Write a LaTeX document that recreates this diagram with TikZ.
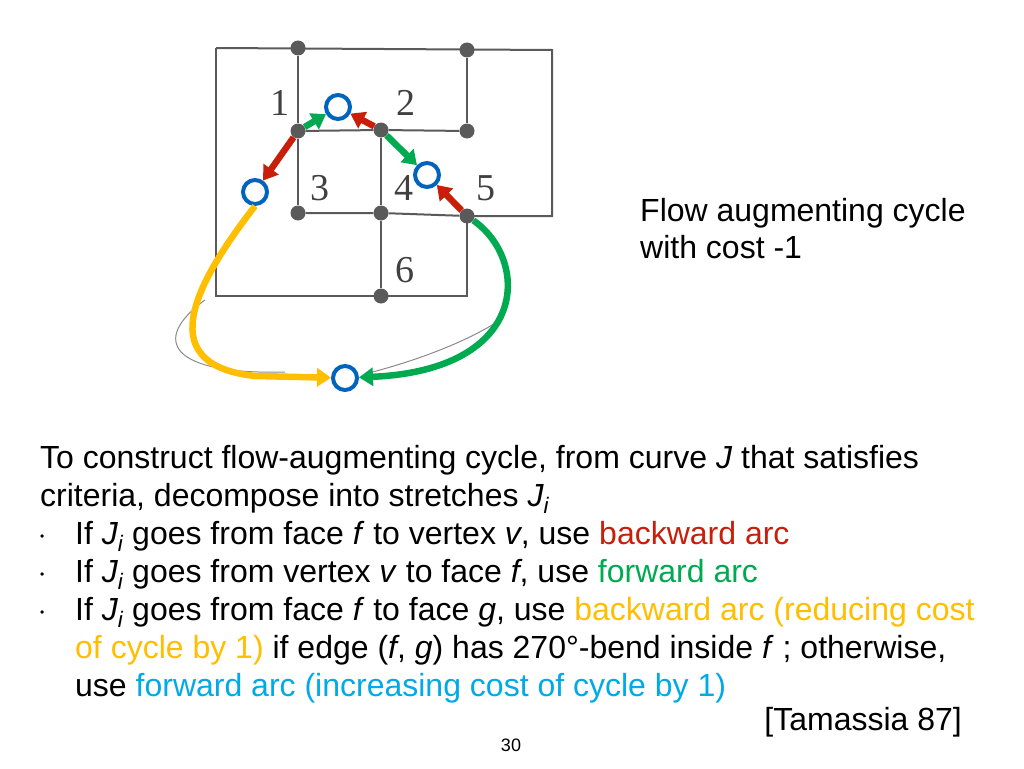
\documentclass[tikz,border=0pt]{standalone}
\usepackage{fontspec}
\setmainfont{Liberation Sans}
\newfontfamily\labfont{Liberation Serif}
\usetikzlibrary{arrows.meta}
\definecolor{cred}{RGB}{200,30,10}
\definecolor{cgreen}{RGB}{0,170,80}
\definecolor{cyel}{RGB}{255,190,0}
\definecolor{cblue}{RGB}{0,100,190}
\definecolor{cltblue}{RGB}{0,170,230}
\definecolor{cgray}{RGB}{90,90,90}
\begin{document}
\begin{tikzpicture}[x=1pt,y=-1pt,
  vert/.style={circle,fill=cgray,inner sep=0pt,minimum size=15pt},
  fnode/.style={circle,draw=cblue,line width=4pt,fill=white,inner sep=0pt,minimum size=24pt},
  edge/.style={draw=cgray,line width=2pt},
  arr/.style={line width=6.5pt,-{Triangle[length=14pt,width=18pt]}},
  flab/.style={font=\fontsize{38}{38}\selectfont\labfont,text=black!75},
  txt/.style={anchor=base west,inner sep=0pt,font=\fontsize{32}{38}\selectfont}]
\useasboundingbox (0,0) rectangle (1024,768);
% frame lines
\draw[edge] (216,48) -- (552,50) -- (552,216) -- (467,216);
\draw[edge] (216,48) -- (216,296) -- (467,296) -- (467,216);
% vertices
\node[vert] (A) at (298,48) {};
\node[vert] (B) at (467,50) {};
\node[vert] (C) at (298,131) {};
\node[vert] (D) at (381,130) {};
\node[vert] (E) at (467,131) {};
\node[vert] (F) at (298,213) {};
\node[vert] (G) at (381,213) {};
\node[vert] (H) at (467,216) {};
\node[vert] (I) at (381,296) {};
\draw[edge] (A)--(C)--(F); \draw[edge] (B)--(E);
\draw[edge] (C)--(D)--(E); \draw[edge] (D)--(G)--(I);
\draw[edge] (F)--(G)--(H);
\node[flab] (l1) at (280,103) {1};
\node[flab] (l2) at (406,103) {2};
\node[flab] (l3) at (320,188) {3};
\node[flab] (l4) at (404,188) {4};
\node[flab] (l5) at (486,188) {5};
\node[flab] (l6) at (405,270) {6};
% scan artifacts
\draw[cgray!70,line width=1pt] (205,300) .. controls (150,340) and (170,375) .. (285,372);
\draw[cgray!70,line width=1pt] (500,320) .. controls (470,340) and (420,360) .. (365,374);
% face nodes
\node[fnode] (O1) at (338,107) {};
\node[fnode] (O2) at (427,175) {};
\node[fnode] (O3) at (255,192) {};
\node[fnode] (O4) at (345,378) {};
\draw[arr,cgreen] (C) -- (O1);
\draw[arr,cred] (D) -- (O1);
\draw[arr,cgreen] (D) -- (O2);
\draw[arr,cred] (H) -- (O2);
\draw[arr,cred] (C) -- (O3);
\draw[arr,cyel] (O3.south) .. controls (190,290) and (155,365) .. (255,376) -- (O4);
\draw[arr,cgreen] (H) .. controls (530,260) and (530,370) .. (O4);
% right text
\node[txt] (t0) at (640,221) {Flow augmenting cycle};
\node[txt] (t00) at (640,258) {with cost -1};
% main text
\node[txt] (t1) at (40,468) {To construct flow-augmenting cycle, from curve \textit{J} that satisfies};
\node[txt] (t2) at (40,506) {criteria, decompose into stretches \textit{J\textsubscript{i}}};
\node[txt] (b1) at (40,544) {\fontsize{12}{12}\selectfont\raisebox{4pt}{•}};
\node[txt] (t3) at (75,544) {If \textit{J\textsubscript{i}} goes from face \textit{f} to vertex \textit{v}, use \textcolor{cred}{backward arc}};
\node[txt] (b2) at (40,582) {\fontsize{12}{12}\selectfont\raisebox{4pt}{•}};
\node[txt] (t4) at (75,582) {If \textit{J\textsubscript{i}} goes from vertex \textit{v} to face \textit{f}, use \textcolor{cgreen}{forward arc}};
\node[txt] (b3) at (40,620) {\fontsize{12}{12}\selectfont\raisebox{4pt}{•}};
\node[txt] (t5) at (75,620) {If \textit{J\textsubscript{i}} goes from face \textit{f} to face \textit{g}, use \textcolor{cyel}{backward arc (reducing cost}};
\node[txt] (t6) at (75,658) {\textcolor{cyel}{of cycle by 1)} if edge (\textit{f}, \textit{g}) has 270°-bend inside \textit{f} ; otherwise,};
\node[txt] (t7) at (75,696) {use \textcolor{cltblue}{forward arc (increasing cost of cycle by 1)}};
\node[txt,anchor=base east] (t8) at (962,730) {[Tamassia 87]};
\node[anchor=base,font=\fontsize{18}{18}\selectfont] (pg) at (511,751) {30};
\end{tikzpicture}
\end{document}
